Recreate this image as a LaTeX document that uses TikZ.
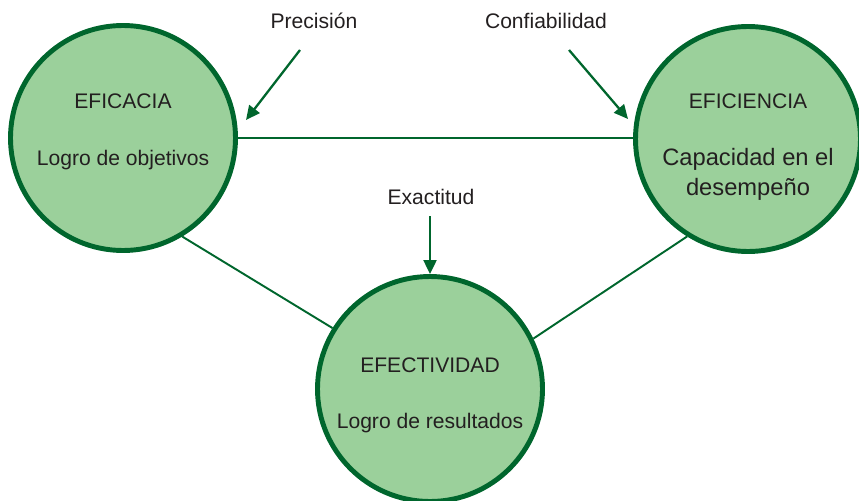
\documentclass[tikz,border=0pt]{standalone}
\usepackage{fontspec}
\setmainfont{Liberation Sans}
\usetikzlibrary{arrows.meta}

\definecolor{relleno}{RGB}{155,208,155}
\definecolor{borde}{RGB}{0,102,45}
\definecolor{texto}{RGB}{35,31,32}

\tikzset{
	esfera/.style={circle, draw=borde, line width=2.8pt, fill=relleno, minimum size=4.50cm, inner sep=0pt},
	enlace/.style={draw=borde, line width=1.1pt},
	flecha/.style={draw=borde, line width=1.3pt, -{Triangle[length=2.8mm,width=2.6mm]}},
	rotulo/.style={text=texto, font=\fontsize{12}{14}\selectfont, inner sep=0pt},
	grande/.style={text=texto, font=\fontsize{13.5}{17}\selectfont, inner sep=0pt, align=center},
}

\begin{document}
\begin{tikzpicture}
	%%%%% START %%%%%
	
	\useasboundingbox (0,0) rectangle (17.18,-10.02);
	
	% las tres esferas
	\node[esfera] (eficacia) at (2.46, -2.76) {};
	\node[esfera] (eficiencia) at (14.96, -2.78) {};
	\node[esfera] (efectividad) at (8.60, -7.78) {};
	
	% lineas entre esferas
	\draw[enlace] (eficacia.east) -- (eficacia.east -| eficiencia.west);
	\draw[enlace] (eficacia.-59) -- (efectividad.148);
	\draw[enlace] (efectividad.26) -- (eficiencia.238);
	
	% textos de cada esfera
	\node[rotulo] (t1) at (2.46, -2.02) {EFICACIA};
	\node[rotulo] (t2) at (2.46, -3.20) {Logro de objetivos};
	
	\node[rotulo] (t3) at (14.96, -2.02) {EFICIENCIA};
	\node[grande] (t4) at (14.96, -3.48) {Capacidad en el\\desempeño};
	
	\node[rotulo] (t5) at (8.60, -7.30) {EFECTIVIDAD};
	\node[rotulo] (t6) at (8.60, -8.46) {Logro de resultados};
	
	% etiquetas con flecha
	\node[rotulo] (precision) at (6.28, -0.42) {Precisión};
	\coordinate (p1) at (6.00, -1.00);
	\coordinate (p2) at (4.92, -2.40);
	\draw[flecha] (p1) -- (p2);
	
	\node[rotulo] (confiabilidad) at (10.92, -0.42) {Confiabilidad};
	\coordinate (c1) at (11.38, -1.00);
	\coordinate (c2) at (12.56, -2.38);
	\draw[flecha] (c1) -- (c2);
	
	\node[rotulo] (exactitud) at (8.62, -3.94) {Exactitud};
	\coordinate (e1) at (8.60, -4.32);
	\draw[flecha] (e1) -- (efectividad.north);
	
	%%%%% END %%%%%
\end{tikzpicture}
\end{document}
